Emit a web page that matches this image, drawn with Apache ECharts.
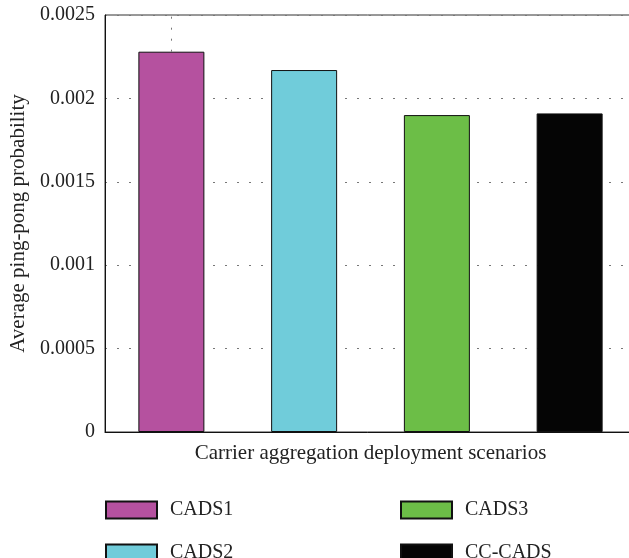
<!DOCTYPE html>
<html>
<head>
<meta charset="utf-8">
<script src="https://cdn.jsdelivr.net/npm/echarts@6/dist/echarts.min.js"></script>
<style>
  html, body { margin: 0; padding: 0; background: #fff; }
  #chart { width: 629px; height: 558px; }
</style>
</head>
<body>
<div id="chart"></div>
<script>
// data
const categories = ['CADS1', 'CADS2', 'CADS3', 'CC-CADS'];
const values = [0.00228, 0.00217, 0.0019, 0.00191];
const colors = ['#B5519F', '#70CCDA', '#6CBE47', '#050505'];
const yMax = 0.0025;
const yStep = 0.0005;

const serif = 'Liberation Serif';

const myChart = echarts.init(document.getElementById('chart'));

// one series per scenario so each gets its own legend entry
const series = categories.map(function (name, i) {
  const data = categories.map(function (c, j) { return j === i ? values[i] : '-'; });
  const s = {
    name: name,
    type: 'bar',
    stack: 'all',
    barWidth: 66,
    itemStyle: {
      color: colors[i],
      borderColor: '#111',
      borderWidth: 1
    },
    data: data
  };
  if (i === 0) {
    // dotted line above the first bar, up to the top frame
    s.markLine = {
      silent: true,
      symbol: 'none',
      label: { show: false },
      lineStyle: { color: '#777', type: [2, 9], width: 1 },
      data: [[{ coord: [0, values[0]] }, { coord: [0, yMax] }]]
    };
  }
  return s;
});

// legend laid out as 2 columns x 2 rows, one legend block per entry
const legendPos = [[105, 500], [105, 543], [400, 500], [400, 543]];
const legends = categories.map(function (name, i) {
  return {
    left: legendPos[i][0],
    top: legendPos[i][1],
    padding: 0,
    icon: 'rect',
    itemWidth: 51,
    itemHeight: 17,
    textStyle: { fontFamily: serif, fontSize: 20, color: '#222', padding: [0, 0, 0, 8] },
    data: [name]
  };
});

myChart.setOption({
  animation: false,
  grid: {
    left: 105,
    top: 15,
    right: -7,
    bottom: 126,
    outerBoundsMode: 'none',
    show: true,
    borderColor: '#333',
    borderWidth: 1
  },
  legend: legends,
  xAxis: {
    type: 'category',
    data: categories,
    name: 'Carrier aggregation deployment scenarios',
    nameLocation: 'middle',
    nameGap: 11,
    nameTextStyle: { fontFamily: serif, fontSize: 21, color: '#222' },
    axisLine: { lineStyle: { color: '#111', width: 1 } },
    axisTick: { show: false },
    axisLabel: { show: false },
    splitLine: { show: false }
  },
  yAxis: {
    type: 'value',
    min: 0,
    max: yMax,
    interval: yStep,
    name: 'Average ping-pong probability',
    nameLocation: 'middle',
    nameRotate: 90,
    nameGap: 76,
    nameTextStyle: { fontFamily: serif, fontSize: 21, color: '#222' },
    axisLine: { show: true, lineStyle: { color: '#111', width: 1 } },
    axisTick: { show: false },
    axisLabel: { fontFamily: serif, fontSize: 20, color: '#222', margin: 10 },
    splitLine: {
      show: true,
      lineStyle: { color: '#777', type: [2, 10], width: 1 }
    }
  },
  series: series
});
</script>
</body>
</html>
